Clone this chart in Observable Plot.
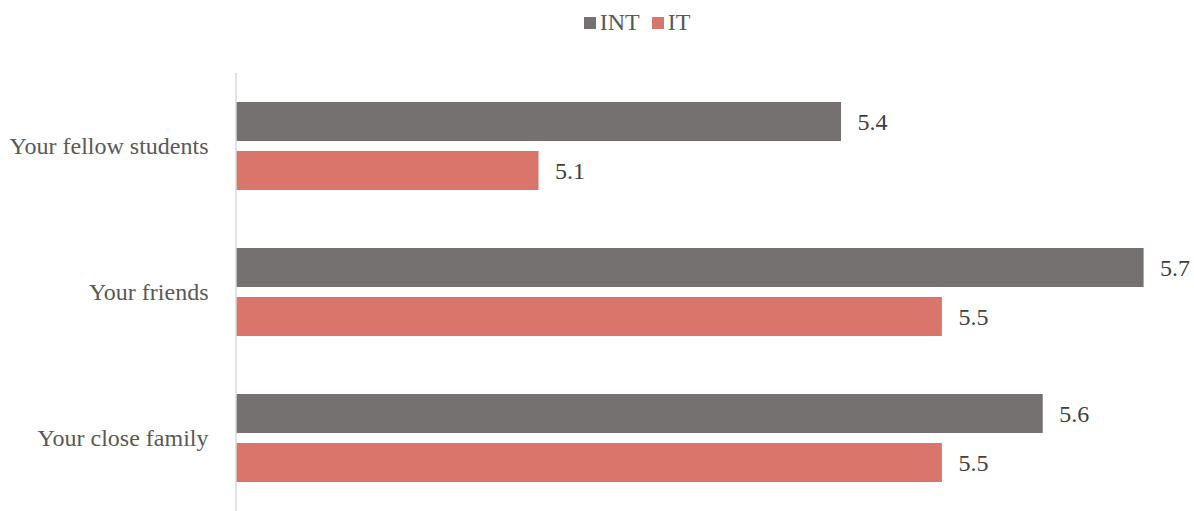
<!DOCTYPE html>
<html><head><meta charset="utf-8">
<script src="https://cdn.jsdelivr.net/npm/d3@7"></script>
<script src="https://cdn.jsdelivr.net/npm/@observablehq/plot@0.6"></script>
<style>
body{margin:0;background:#fff;font-family:"Liberation Serif","Times New Roman",serif;}
#wrap{position:relative;width:1194px;height:511px;}
#legend{position:absolute;top:9px;left:0;width:1194px;text-align:center;font-size:24px;color:#595959;padding-left:80px;box-sizing:border-box;}
#legend span.sw{display:inline-block;width:12px;height:12px;margin-right:4px;vertical-align:1px;}
#legend span.it{margin-left:12px;}
</style></head>
<body><div id="wrap"><div id="legend"></div><div id="chart"></div></div>
<script>
const categories = ["Your fellow students", "Your friends", "Your close family"];
const series = ["INT", "IT"];
const intValues = [5.4, 5.7, 5.6];
const itValues = [5.1, 5.5, 5.5];
const colors = ["#767171", "#D9756B"];

const data = [];
categories.forEach((c, i) => {
  data.push({cat: c, s: "INT", v: intValues[i]});
  data.push({cat: c, s: "IT", v: itValues[i]});
});

const plot = Plot.plot({
  width: 1194, height: 511,
  marginTop: 72, marginBottom: 0, marginLeft: 236, marginRight: 0,
  style: {fontFamily: "'Liberation Serif','Times New Roman',serif", background: "white"},
  x: {domain: [4.8, 5.75], axis: null},
  fy: {domain: categories, padding: 0, axis: null},
  y: {domain: series, axis: null, paddingInner: 0.2, paddingOuter: 0.58},
  color: {domain: series, range: colors},
  marks: [
    Plot.barX(data, {fy: "cat", y: "s", x1: 4.8, x2: "v", fill: "s"}),
    Plot.text(data, {fy: "cat", y: "s", x: "v", text: d => d.v.toFixed(1), dx: 16, textAnchor: "start", fontSize: 24, fill: "#404040"}),
    Plot.text(categories, {fy: d => d, frameAnchor: "left", x: 4.8, text: d => d, dx: -28, textAnchor: "end", fontSize: 24, fill: "#595959"}),
    Plot.ruleX([4.8], {x: 4.8, stroke: "#d9d9d9", strokeWidth: 1.5, dx: -0.5})
  ]
});
document.getElementById("chart").appendChild(plot);

const lg = document.getElementById("legend");
series.forEach((s, i) => {
  const w = document.createElement("span");
  if (i > 0) w.className = "it";
  w.innerHTML = `<span class="sw" style="background:${colors[i]}"></span>${s}`;
  lg.appendChild(w);
});
</script></body></html>
